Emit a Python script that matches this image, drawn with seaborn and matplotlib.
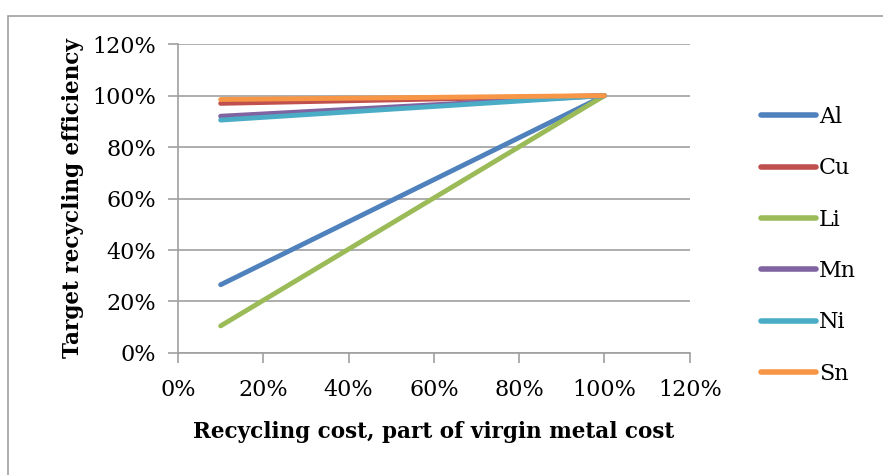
import pandas as pd
import matplotlib.pyplot as plt
from matplotlib.ticker import PercentFormatter
from matplotlib.patches import Rectangle
import seaborn as sns

#data
metals = ['Al', 'Cu', 'Li', 'Mn', 'Ni', 'Sn']
cost = [10, 100]
efficiency = {
    'Al': [26.5, 100],
    'Cu': [97, 100],
    'Li': [10.5, 100],
    'Mn': [92, 100],
    'Ni': [90.5, 100],
    'Sn': [98.5, 100],
}
colors = ['#4F81BD', '#C0504D', '#9BBB59', '#8064A2', '#4BACC6', '#F79646']

#long format table for seaborn
rows = []
for m in metals:
    for x, y in zip(cost, efficiency[m]):
        rows.append({'cost': x, 'eff': y, 'metal': m})
df = pd.DataFrame(rows)

sns.set_theme(style='white')
plt.rcParams['font.family'] = ['DejaVu Serif']
plt.rcParams['text.color'] = 'black'
plt.rcParams['axes.labelcolor'] = 'black'

fig = plt.figure(figsize=(8.83, 4.75), dpi=100)
ax = fig.add_axes([0.2016, 0.257, 0.5795, 0.65])

sns.lineplot(data=df, x='cost', y='eff', hue='metal', hue_order=metals,
             palette=colors, linewidth=3.5, ax=ax, solid_capstyle='round')

ax.set_xlim(0, 120)
ax.set_ylim(0, 120)
ax.set_xticks(range(0, 121, 20))
ax.set_yticks(range(0, 121, 20))
ax.xaxis.set_major_formatter(PercentFormatter(decimals=0))
ax.yaxis.set_major_formatter(PercentFormatter(decimals=0))
ax.tick_params(axis='both', labelsize=16, labelcolor='black', length=7,
               width=1.2, direction='out', bottom=True, left=True)
ax.tick_params(axis='x', pad=12)
ax.tick_params(axis='y', pad=9)
ax.tick_params(axis='both', color='#A0A0A0')
ax.yaxis.grid(True, color='#A0A0A0', linewidth=1.2)
ax.set_axisbelow(True)
for s in ['top', 'right']:
    ax.spines[s].set_visible(False)
for s in ['left', 'bottom']:
    ax.spines[s].set_color('#A0A0A0')
    ax.spines[s].set_linewidth(1.2)

ax.set_xlabel('Recycling cost, part of virgin metal cost', fontsize=15.5,
              fontweight='bold', labelpad=14)
ax.set_ylabel('Target recycling efficiency', fontsize=15.5, fontweight='bold',
              labelpad=6)

leg = ax.legend(loc='center left', bbox_to_anchor=(1.1, 0.348), frameon=False,
                fontsize=16, labelspacing=1.32, handlelength=2.5,
                handletextpad=0.1)
for line in leg.get_lines():
    line.set_linewidth(4)

#outer frame like the original image
fig.patches.append(Rectangle((0.009, -0.01), 1.2, 0.976, transform=fig.transFigure,
                             fill=False, edgecolor='#A0A0A0', linewidth=1.2))

fig.savefig('out.png', dpi=100)
